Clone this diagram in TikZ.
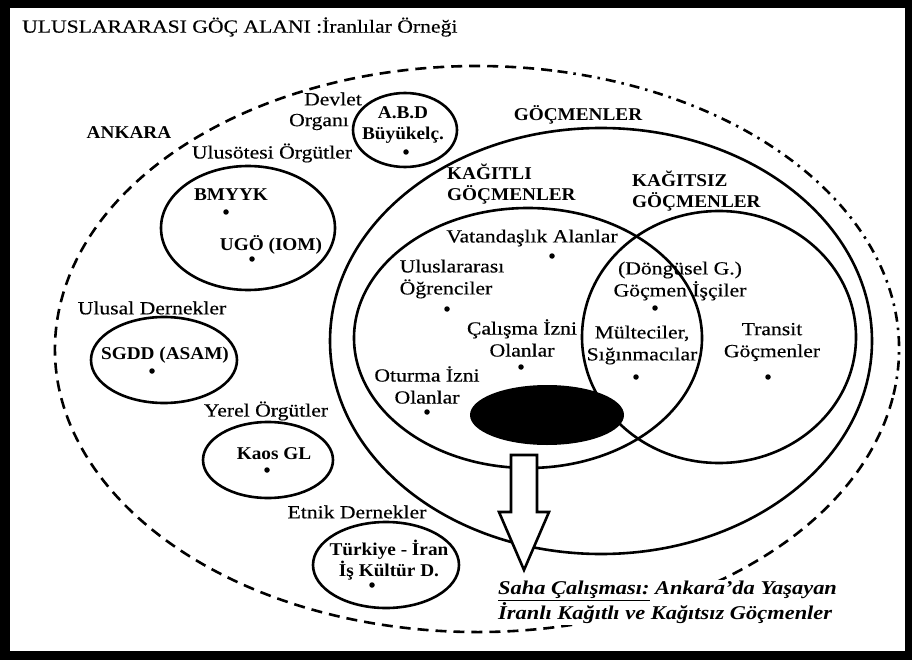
\documentclass[tikz,border=0pt]{standalone}
\usepackage{fontspec}
\setmainfont{Liberation Serif}[UprightFeatures={FakeStretch=1.17,FakeBold=0.35},BoldFeatures={FakeStretch=1.07},BoldItalicFeatures={FakeStretch=1.15}]
\usetikzlibrary{calc}
\begin{document}
\begin{tikzpicture}[x=1pt,y=-1pt,
  lbl/.style={inner sep=0pt,font=\fontsize{18.5}{22}\selectfont,align=center},
  blbl/.style={inner sep=0pt,font=\fontsize{18}{21}\selectfont\bfseries,align=center},
  ring/.style={line width=2.6pt},
  outerdash/.style={line width=2.6pt,dash pattern=on 11pt off 7pt},
  outerdashdot/.style={line width=2.6pt,dash pattern=on 10pt off 6pt on 2.5pt off 6pt},
  dot/.style={circle,fill=black,inner sep=0pt,minimum size=5.5pt},
  arrowbox/.style={line width=2.6pt,fill=white,line join=miter}]
\fill[black] (0,0) rectangle (912,660);
\fill[white] (10,8) rectangle (905,651);
\useasboundingbox (0,0) rectangle (912,660);
% outer dashed field
\draw[outerdash] ($(477,349)+({422*cos(10)},{283*sin(10)})$) arc[start angle=10,end angle=281,x radius=422,y radius=283];
\draw[outerdashdot] ($(477,349)+({422*cos(281)},{283*sin(281)})$) arc[start angle=281,end angle=370,x radius=422,y radius=283];
% migrant circles
\draw[ring] (601,341) ellipse[x radius=271,y radius=213];
\draw[ring] (528,338) ellipse[x radius=174,y radius=130];
\draw[ring] (719,337) ellipse[x radius=137,y radius=126];
\fill[black] (547,415) ellipse[x radius=77,y radius=30];
% organisation ellipses
\draw[ring] (405,130) ellipse[x radius=52,y radius=37];
\draw[ring] (248,228) ellipse[x radius=87,y radius=62];
\draw[ring] (164,360) ellipse[x radius=73,y radius=43];
\draw[ring] (268,460) ellipse[x radius=65,y radius=38];
\draw[ring] (386,565) ellipse[x radius=73,y radius=43];
% arrow
\draw[arrowbox] (511,455) -- (537,455) -- (537,512) -- (549,512) -- (524,570) -- (499,512) -- (511,512) -- cycle;
% title
\node[lbl,anchor=west] (title) at (22,27) {ULUSLARARASI GÖÇ ALANI :İranlılar Örneği};
\node[blbl] (ankara) at (129,133) {ANKARA};
% left side
\node[lbl] (devlet) at (333,99) {Devlet};
\node[lbl] (organi) at (319,122) {Organı};
\node[blbl] (abd) at (403,125) {A.B.D\\Büyükelç.};
\node[dot] (dabd) at (406,152) {};
\node[lbl] (ulusotesi) at (272,153) {Ulusötesi Örgütler};
\node[blbl] (bmyyk) at (231,195) {BMYYK};
\node[dot] (dbmyyk) at (226,212) {};
\node[blbl] (ugo) at (271,245) {UGÖ (IOM)};
\node[dot] (dugo) at (252,259) {};
\node[lbl] (ulusal) at (152,308) {Ulusal Dernekler};
\node[blbl] (sgdd) at (165,355) {SGDD (ASAM)};
\node[dot] (dsgdd) at (152,371) {};
\node[lbl] (yerel) at (266,411) {Yerel Örgütler};
\node[blbl] (kaos) at (274,454) {Kaos GL};
\node[dot] (dkaos) at (267,470) {};
\node[lbl] (etnik) at (357,512) {Etnik Dernekler};
\node[blbl] (turkiye) at (389,560) {Türkiye - İran\\İş Kültür D.};
\node[dot] (dturkiye) at (372,585) {};
% migrants
\node[blbl] (gocmenler) at (578,115) {GÖÇMENLER};
\node[blbl,anchor=north west,align=left] (kagitli) at (447,164) {KAĞITLI\\GÖÇMENLER};
\node[blbl,anchor=north west,align=left] (kagitsiz) at (632,171) {KAĞITSIZ\\GÖÇMENLER};
\node[lbl] (vatandas) at (532,238) {Vatandaşlık Alanlar};
\node[dot] (dvatandas) at (552,256) {};
\node[lbl,align=left] (ogrenci) at (452,279) {Uluslararası\\Öğrenciler};
\node[dot] (dogrenci) at (447,309) {};
\node[lbl] (calisma) at (522,338) {Çalışma İzni\\Olanlar};
\node[dot] (dcalisma) at (521,367) {};
\node[lbl] (oturma) at (427,385) {Oturma İzni\\Olanlar};
\node[dot] (doturma) at (427,412) {};
\node[lbl] (dongusel) at (680,281) {(Döngüsel G.)\\Göçmen İşçiler};
\node[dot] (ddongusel) at (655,308) {};
\node[lbl] (multeci) at (642,345) {Mülteciler,\\Sığınmacılar};
\node[dot] (dmulteci) at (636,377) {};
\node[lbl] (transit) at (772,342) {Transit\\Göçmenler};
\node[dot] (dtransit) at (768,377) {};
% field study
\node[inner sep=1pt,fill=white,anchor=north west,align=left,font=\fontsize{19.5}{25}\selectfont\bfseries\itshape] (saha) at (497,580) {\underline{Saha Çalışması:} Ankara'da Yaşayan\\İranlı Kağıtlı ve Kağıtsız Göçmenler};
\end{tikzpicture}
\end{document}
